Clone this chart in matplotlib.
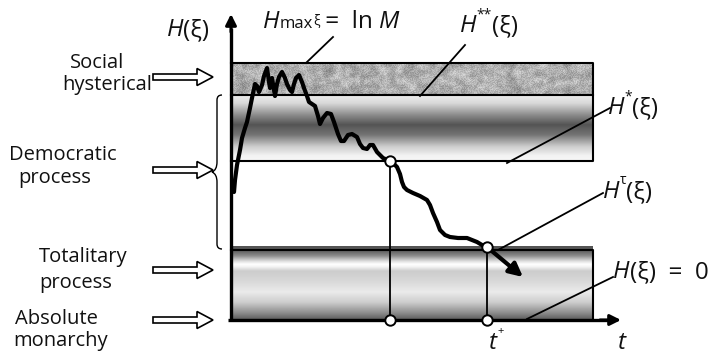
import numpy as np
import matplotlib
matplotlib.use("Agg")
import matplotlib.pyplot as plt
from matplotlib.patches import FancyArrow, Rectangle, PathPatch
from matplotlib.path import Path

plt.rcParams['font.family'] = ['Open Sans', 'DejaVu Sans']

# ---------------- data (diagram coordinates, pixel units) ----------------
curve_x = [234, 235, 237, 240, 242, 245, 247, 250, 252, 255, 257, 259, 262, 264, 267, 269, 270,
           272, 274, 275, 277, 279, 282, 285, 287, 290, 292, 294, 296, 299, 302, 304, 307, 309,
           312, 315, 318, 320, 323, 327, 331, 334, 338, 341, 344, 348, 352, 357, 360, 363, 367,
           370, 373, 377, 383, 390, 394, 397, 400, 402, 404, 407, 413, 420, 427, 430, 433, 437,
           440, 445, 450, 458, 467, 472, 477, 482, 487]
curve_y = [192, 180, 165, 150, 138, 128, 122, 108, 98, 84, 86, 92, 85, 76, 68, 82, 88,
           78, 90, 96, 84, 77, 72, 78, 84, 90, 92, 84, 78, 75, 82, 88, 96, 102,
           104, 106, 116, 124, 118, 113, 114, 122, 134, 141, 141, 135, 134, 137, 144, 148, 149,
           145, 145, 152, 158, 161, 164, 167, 174, 182, 187, 190, 193, 196, 200, 205, 213, 222,
           230, 235, 237, 238, 238, 240, 242, 245, 247]
arrow_end = (523, 277)

levels = {"max": 63, "hyst": 95, "demo": 161, "tot": 250, "zero": 320}
x_left, x_right = 231, 593
t_marks = [390, 487]           # t1 and t+
t_mark_levels = [161, 247]

demo_pos = [0.0, 0.12, 0.3, 0.45, 0.6, 0.78, 0.92, 1.0]
demo_val = [0.93, 0.85, 0.55, 0.33, 0.45, 0.8, 0.95, 0.97]
tot_pos = [0.0, 0.08, 0.16, 0.2, 0.24, 0.3, 0.45, 0.6, 0.75, 0.9, 1.0]
tot_val = [0.35, 0.55, 0.88, 1.0, 0.95, 0.8, 0.85, 0.92, 0.8, 0.55, 0.35]

side_labels = [("Social", 97, 68), ("hysterical", 107, 90),
               ("Democratic", 63, 160), ("process", 55, 183),
               ("Totalitary", 83, 262), ("process", 76, 288),
               ("Absolute", 56, 324), ("monarchy", 61, 346)]
side_arrow_y = [77, 170, 270, 320]

leaders = [((307, 62), (333, 37)), ((420, 96), (465, 45)), ((507, 163), (610, 108)),
           ((498, 250), (603, 193)), ((527, 319), (613, 277))]

# ---------------- figure ----------------
W, H = 710, 356
fig = plt.figure(figsize=(W / 100, H / 100), dpi=100)
ax = fig.add_axes([0, 0, 1, 1])
ax.set_xlim(0, W)
ax.set_ylim(H, 0)
ax.axis('off')

# noise band (texture)
rng = np.random.default_rng(11)
coarse = rng.random((9, 95))
fine = rng.random((32, 362))
ax.imshow(coarse, cmap='gray', vmin=-1.6, vmax=1.3, extent=(x_left, x_right, levels["hyst"], levels["max"]),
          interpolation='bicubic', aspect='auto', zorder=1)
ax.imshow(fine, cmap='gray', vmin=0, vmax=1, alpha=0.15, extent=(x_left, x_right, levels["hyst"], levels["max"]),
          interpolation='bilinear', aspect='auto', zorder=1.1)

# democratic gradient
n = 200
g = np.interp(np.linspace(0, 1, n), demo_pos, demo_val)[:, None]
ax.imshow(g, cmap='gray', vmin=0, vmax=1, extent=(x_left, x_right, levels["demo"], levels["hyst"]),
          aspect='auto', interpolation='bilinear', zorder=1)
# totalitary gradient
g2 = np.interp(np.linspace(0, 1, n), tot_pos, tot_val)[:, None]
ax.imshow(g2, cmap='gray', vmin=0, vmax=1, extent=(x_left, x_right, levels["zero"], levels["tot"]),
          aspect='auto', interpolation='bilinear', zorder=1)
ax.add_patch(Rectangle((x_left, levels["tot"] - 4), x_right - x_left, 3.5, facecolor='#555555',
                       edgecolor='none', zorder=1.5))

# band borders
lw_b = 1.5
ax.plot([x_left, x_right, x_right, x_left], [levels["max"], levels["max"], levels["demo"], levels["demo"]],
        color='black', lw=lw_b, zorder=3)
ax.plot([x_left, x_right], [levels["hyst"], levels["hyst"]], color='black', lw=lw_b, zorder=3)
ax.plot([x_left, x_right, x_right], [levels["tot"], levels["tot"], levels["zero"]], color='black', lw=lw_b, zorder=3)

# axes
ax.plot([x_left, x_left], [levels["zero"] + 1, 28], color='black', lw=2.4, zorder=4, solid_capstyle='butt')
ax.annotate('', xy=(x_left, 14), xytext=(x_left, 32),
            arrowprops=dict(arrowstyle='-|>', color='black', lw=2.2, mutation_scale=16,
                            shrinkA=0, shrinkB=0), zorder=4)
ax.plot([x_left - 3, 608], [levels["zero"], levels["zero"]], color='black', lw=2.4, zorder=4,
        solid_capstyle='butt')
ax.annotate('', xy=(621, levels["zero"]), xytext=(600, levels["zero"]),
            arrowprops=dict(arrowstyle='-|>', color='black', lw=2.2, mutation_scale=16,
                            shrinkA=0, shrinkB=0), zorder=4)

# vertical markers
for tx, ty in zip(t_marks, t_mark_levels):
    ax.plot([tx, tx], [ty, levels["zero"]], color='black', lw=1.3, zorder=5)

# curve
ax.plot(curve_x, curve_y, color='black', lw=3.0, solid_joinstyle='round', solid_capstyle='round', zorder=6)
ax.annotate('', xy=arrow_end, xytext=(curve_x[-1], curve_y[-1]),
            arrowprops=dict(arrowstyle='-|>', color='black', lw=3.0, mutation_scale=20,
                            shrinkA=0, shrinkB=0), zorder=6)

# circles
for tx, ty in zip(t_marks, t_mark_levels):
    ax.plot([tx, tx], [ty, levels["zero"]], 'o', ms=7.5, mfc='white', mec='black', mew=1.4, zorder=7)

# leader lines
for (p0, p1) in leaders:
    ax.plot([p0[0], p1[0]], [p0[1], p1[1]], color='black', lw=1.3, zorder=8)

# side hollow arrows
for ay in side_arrow_y:
    ax.add_patch(FancyArrow(153, ay, 60, 0, width=6, head_width=17, head_length=16,
                            length_includes_head=True, facecolor='white', edgecolor='black',
                            lw=1.2, zorder=9))

# curly brace
bx, btop, bbot, btip = 217, levels["hyst"], levels["tot"] - 1, 172
verts = [(bx + 5, btop), (bx, btop), (bx, btop + 5), (bx, btop + 10),
         (bx, btip - 10), (bx, btip - 2), (bx - 5, btip),
         (bx, btip + 2), (bx, btip + 10),
         (bx, bbot - 10), (bx, bbot - 5), (bx, bbot), (bx + 5, bbot)]
codes = [Path.MOVETO, Path.CURVE3, Path.CURVE3, Path.LINETO,
         Path.LINETO, Path.CURVE3, Path.CURVE3,
         Path.CURVE3, Path.CURVE3,
         Path.LINETO, Path.LINETO, Path.CURVE3, Path.CURVE3]
ax.add_patch(PathPatch(Path(verts, codes), facecolor='none', edgecolor='black', lw=1.0, zorder=9))

# side labels
FS = 14.5
for txt, tx, ty in side_labels:
    ax.text(tx, ty, txt, ha='center', va='baseline', fontsize=FS, color='#111111')

# rich-text helper
renderer = fig.canvas.get_renderer()
inv = ax.transData.inverted()


def rich(x, y, pieces):
    cx = x
    for txt, size, style, dy in pieces:
        t = ax.text(cx, y + dy, txt, ha='left', va='baseline', fontsize=size, style=style,
                    color='#111111', zorder=10)
        bb = t.get_window_extent(renderer=renderer)
        cx = inv.transform((bb.x1, bb.y0))[0]
    return cx


BIG = 17.5
SUP = 10
rich(167, 36, [("H", BIG, 'italic', 0), ("(ξ)", BIG, 'normal', 0)])
rich(263, 28, [("H", BIG, 'italic', 0), ("max", 12, 'normal', 0), ("ξ", 10, 'normal', -3),
               (" =  ln ", BIG, 'normal', 0), ("M", BIG, 'italic', 0)])
rich(460, 32, [("H", BIG, 'italic', 0), ("**", SUP, 'normal', -14), ("(ξ)", BIG, 'normal', 0)])
rich(608, 114, [("H", BIG, 'italic', 0), ("*", SUP, 'normal', -14), ("(ξ)", BIG, 'normal', 0)])
rich(603, 198, [("H", BIG, 'italic', 0), ("τ", SUP, 'normal', -14), ("(ξ)", BIG, 'normal', 0)])
rich(613, 278, [("H", BIG, 'italic', 0), ("(ξ)  =  0", BIG, 'normal', 0)])
rich(489, 349, [("t", BIG, 'italic', 0), ("+", 8, 'normal', -15)])
rich(618, 349, [("t", BIG, 'italic', 0)])

fig.savefig('out.png', dpi=100)
